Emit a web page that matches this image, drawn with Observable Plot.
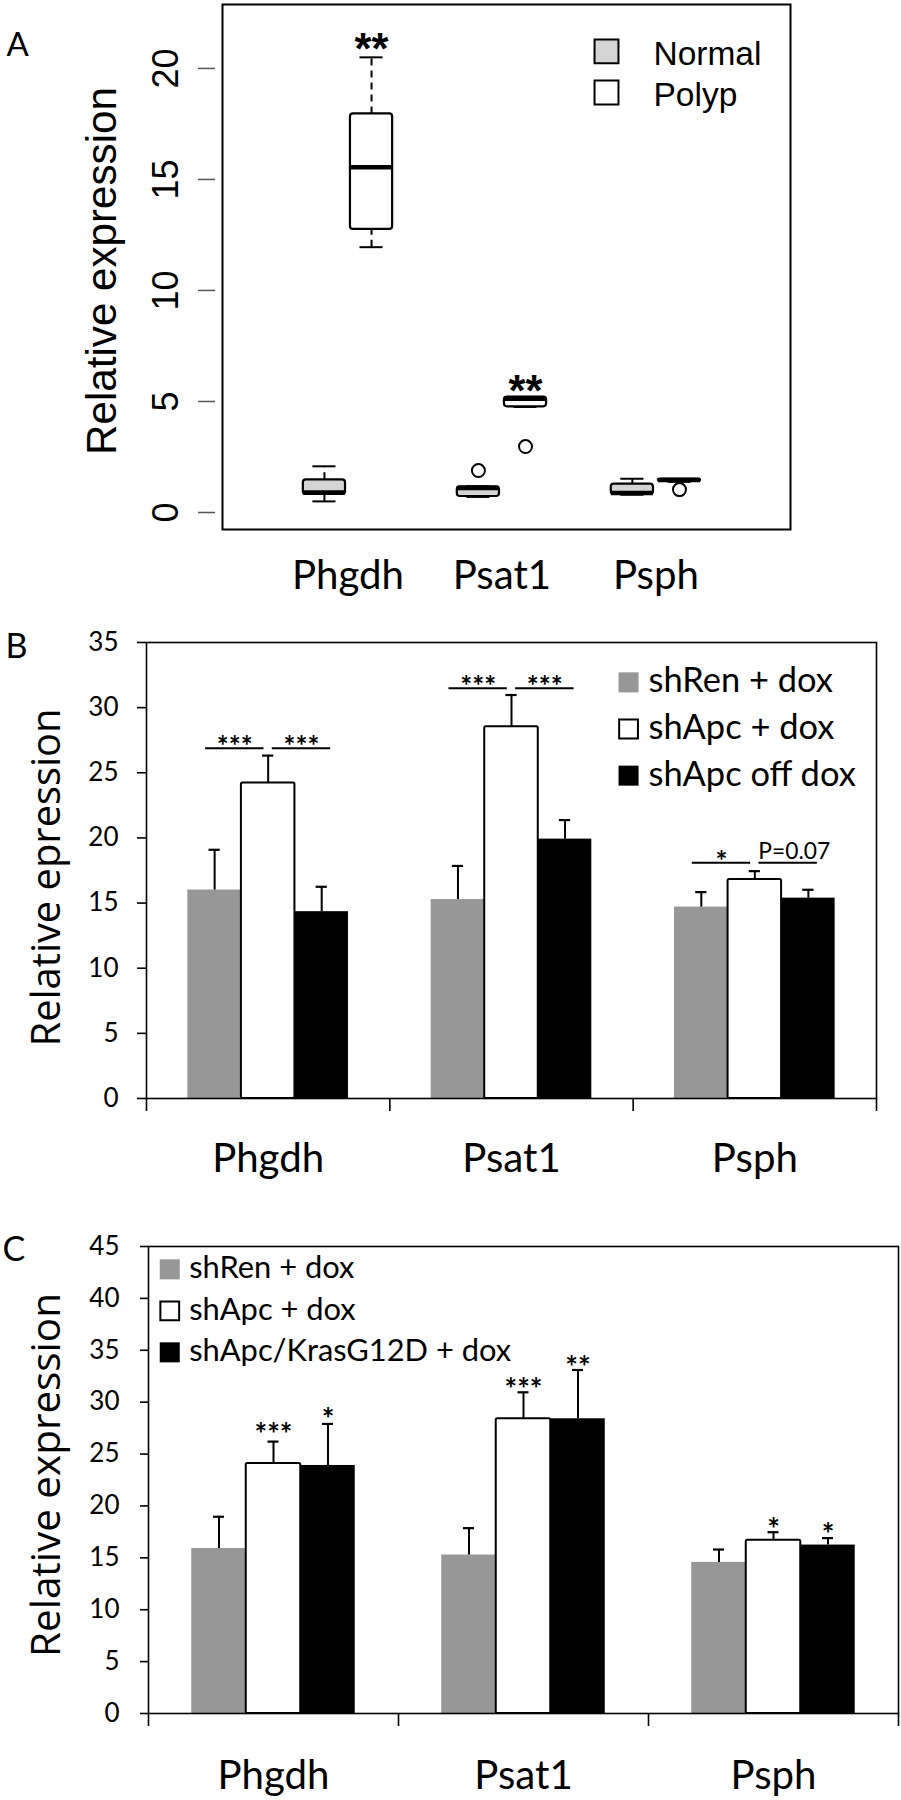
<!DOCTYPE html>
<html>
<head>
<meta charset="utf-8">
<script src="https://cdn.jsdelivr.net/npm/d3@7"></script>
<script src="https://cdn.jsdelivr.net/npm/@observablehq/plot@0.6"></script>
<style>
  html, body { margin: 0; padding: 0; background: #fff; }
  #chart svg { display: block; }
</style>
</head>
<body>
<div id="chart"></div>
<script>
// ================= DATA =================
const genes = ["Phgdh", "Psat1", "Psph"];

// Panel A — box plots: [lower whisker, Q1, median, Q3, upper whisker] per gene
const groupsA = ["Normal", "Polyp"];
const boxNormal = [[0.50, 0.81, 0.90, 1.47, 2.08], [0.70, 0.72, 1.10, 1.16, 1.18], [0.80, 0.81, 0.88, 1.28, 1.52]];
const boxPolyp  = [[11.95, 12.75, 15.55, 17.95, 20.50], [4.75, 4.76, 5.12, 5.20, 5.20], [1.38, 1.40, 1.46, 1.50, 1.50]];
const outlierGene  = ["Psat1", "Psat1", "Psph"];
const outlierGroup = ["Normal", "Polyp", "Polyp"];
const outlierValue = [1.89, 2.97, 1.03];
const starGeneA = ["Phgdh", "Psat1"];
const starValueA = [21.26, 5.86];
const ticksA = [0, 5, 10, 15, 20];

// Panel B — mean and (upper) error bar per gene
const groupsB = ["shRen + dox", "shApc + dox", "shApc off dox"];
const meanB_shRen = [16.00, 15.27, 14.69];
const meanB_shApc = [24.22, 28.54, 16.81];
const meanB_off   = [14.34, 19.91, 15.38];
const errB_shRen  = [3.09, 2.58, 1.15];
const errB_shApc  = [2.10, 2.43, 0.64];
const errB_off    = [1.91, 1.46, 0.64];
const sigGeneB  = ["Phgdh", "Phgdh", "Psat1", "Psat1", "Psph", "Psph"];
const sigSideB  = ["left", "right", "left", "right", "left", "right"];
const sigValueB = [26.88, 26.88, 31.48, 31.48, 18.09, 18.09];
const sigLabelB = ["***", "***", "***", "***", "*", "P=0.07"];
const ticksB = [0, 5, 10, 15, 20, 25, 30, 35];

// Panel C
const groupsC = ["shRen + dox", "shApc + dox", "shApc/KrasG12D + dox"];
const meanC_shRen = [15.90, 15.27, 14.56];
const meanC_shApc = [24.10, 28.40, 16.70];
const meanC_kras  = [23.90, 28.40, 16.23];
const errC_shRen  = [3.06, 2.59, 1.24];
const errC_shApc  = [2.10, 2.55, 0.77];
const errC_kras   = [4.00, 4.70, 0.67];
const starGeneC  = ["Phgdh", "Phgdh", "Psat1", "Psat1", "Psph", "Psph"];
const starGroupC = ["shApc + dox", "shApc/KrasG12D + dox", "shApc + dox", "shApc/KrasG12D + dox", "shApc + dox", "shApc/KrasG12D + dox"];
const starValueC = [27.57, 29.0, 31.88, 34.0, 18.44, 17.9];
const starLabelC = ["***", "*", "***", "**", "*", "*"];
const ticksC = [0, 5, 10, 15, 20, 25, 30, 35, 40, 45];

// ================= LAYOUT / STYLE =================
const GRAY = "#979797";
const SANS = "Lato, 'Open Sans', sans-serif";
const ARIAL = "'Liberation Sans', Arial, sans-serif";
const LABEL = "'Open Sans', sans-serif";
const baseStyle = {background: "white", overflow: "visible", color: "black"};

// font size that makes a text span a given width
const measureCtx = document.createElement("canvas").getContext("2d");
function fitSize(text, family, weight, width) {
  measureCtx.font = `${weight} 100px ${family}`;
  return 100 * width / measureCtx.measureText(text).width;
}
const FS = {
  cat: fitSize("Phgdh", SANS, "normal", 112),
  legA: fitSize("Normal", ARIAL, "normal", 108),
  legB: fitSize("shApc off dox", SANS, "normal", 208),
  legC: fitSize("shApc/KrasG12D + dox", SANS, "normal", 322),
  labA: fitSize("Relative expression", ARIAL, "normal", 368),
  labB: fitSize("Relative epression", LABEL, "normal", 338),
  labC: fitSize("Relative expression", LABEL, "normal", 364),
  starB: fitSize("***", SANS, "bold", 36),
  starC: fitSize("***", SANS, "bold", 38),
  starA: fitSize("**", ARIAL, "bold", 34),
  pval: fitSize("P=0.07", SANS, "normal", 72)
};

const LA = {height: 600, ml: 222, mr: 111, mt: 4, mb: 71, xDomain: [-0.815, 2.874], yDomain: [-0.766, 22.88],
            off: 0.153, hw: 0.137, capHW: 0.075, legX: 1.679, legTextX: 1.984, legY0: 20.77, legStep: 1.85};
const LB = {height: 590, ml: 146, mr: 25, mt: 42, mb: 92, barW: 0.22, capHW: 0.023,
            legX: 1.481, legTextX: 1.563, legY0: 31.94, legStep: 3.58, padOuter: 0.037, padInner: 0.017};
const LC = {height: 610, ml: 148, mr: 3, mt: 56, mb: 87, barW: 0.218, capHW: 0.022,
            legX: -0.415, legTextX: -0.337, legY0: 42.8, legStep: 4.0};

// ================= PANEL A =================
const rowsA = genes.flatMap((g, i) => groupsA.map((grp, j) => {
  const s = (j === 0 ? boxNormal : boxPolyp)[i];
  return {gene: g, group: grp, low: s[0], q1: s[1], med: s[2], q3: s[3], high: s[4]};
}));
const xA = d => genes.indexOf(d.gene) + (groupsA.indexOf(d.group) === 0 ? -LA.off : LA.off);
const outRowsA = outlierValue.map((v, k) => ({gene: outlierGene[k], group: outlierGroup[k], value: v}));
const starRowsA = starValueA.map((v, k) => ({gene: starGeneA[k], group: "Polyp", value: v}));
const legendA = groupsA.map((g, i) => ({group: g, i}));

const plotA = Plot.plot({
  width: 901, height: LA.height,
  marginLeft: LA.ml, marginRight: LA.mr, marginTop: LA.mt, marginBottom: LA.mb,
  x: {domain: LA.xDomain, axis: null},
  y: {domain: LA.yDomain, label: null},
  color: {domain: groupsA, range: ["#d4d4d4", "#ffffff"]},
  style: baseStyle,
  marks: [
    Plot.frame({stroke: "black", strokeWidth: 2}),
    Plot.axisY({ticks: ticksA, tickSize: 17, tickPadding: 21, tickRotate: -90, dx: -7,
                fontSize: 36, fontFamily: ARIAL, stroke: "#555", strokeWidth: 1.5, fill: "black", label: null}),
    // whiskers
    Plot.ruleX(rowsA, {x: xA, y1: "q3", y2: "high", stroke: "black", strokeWidth: 2, strokeDasharray: "7,5"}),
    Plot.ruleX(rowsA, {x: xA, y1: "low", y2: "q1", stroke: "black", strokeWidth: 2, strokeDasharray: "7,5"}),
    Plot.ruleY(rowsA, {y: "high", x1: d => xA(d) - LA.capHW, x2: d => xA(d) + LA.capHW, stroke: "black", strokeWidth: 2}),
    Plot.ruleY(rowsA, {y: "low", x1: d => xA(d) - LA.capHW, x2: d => xA(d) + LA.capHW, stroke: "black", strokeWidth: 2}),
    // boxes
    Plot.rect(rowsA, {x1: d => xA(d) - LA.hw, x2: d => xA(d) + LA.hw, y1: "q1", y2: "q3",
                      fill: "group", stroke: "black", strokeWidth: 2.2, rx: 3}),
    Plot.ruleY(rowsA, {y: "med", x1: d => xA(d) - LA.hw, x2: d => xA(d) + LA.hw, stroke: "black", strokeWidth: 4.5}),
    // outliers
    Plot.dot(outRowsA, {x: xA, y: "value", r: 6.5, fill: "white", stroke: "black", strokeWidth: 2}),
    // significance stars
    Plot.text(starRowsA, {x: xA, y: "value", text: () => "**", fontSize: FS.starA, fontWeight: "bold",
                          fontFamily: ARIAL, lineAnchor: "middle", dy: 10}),
    // legend
    Plot.dot(legendA, {x: () => LA.legX, y: d => LA.legY0 - d.i * LA.legStep, symbol: "square", r: 13.5,
                       fill: "group", stroke: "black", strokeWidth: 2}),
    Plot.text(legendA, {x: () => LA.legTextX, y: d => LA.legY0 - d.i * LA.legStep, text: "group",
                        textAnchor: "start", lineAnchor: "middle", dy: 3, fontSize: FS.legA, fontFamily: ARIAL}),
    // category labels
    Plot.text(genes, {x: (d, i) => i, text: d => d, frameAnchor: "bottom", lineAnchor: "bottom", dy: 59,
                      fontSize: FS.cat, fontFamily: SANS}),
    // y label
    Plot.text(["Relative expression"], {text: d => d, frameAnchor: "left", textAnchor: "middle", rotate: -90,
                      dx: -120, dy: 4, fontSize: FS.labA, fontFamily: ARIAL}),
    // panel letter
    Plot.text(["A"], {text: d => d, frameAnchor: "top-left", textAnchor: "start", lineAnchor: "bottom",
                      dx: -216, dy: 51, fontSize: 33, fontFamily: SANS})
  ]
});

// ================= helpers for bar panels =================
function barRows(groups, means, errs) {
  return genes.flatMap((g, i) => groups.map((grp, j) => ({gene: g, gi: i, group: grp, gj: j, value: means[j][i], err: errs[j][i]})));
}

function barPanel(L, groups, rows, ticks, extraMarks, yLabel, letter, opts) {
  const xc = d => d.gi + (d.gj - 1) * L.barW;
  const legend = groups.map((g, i) => ({group: g, i}));
  return Plot.plot({
    width: 901, height: L.height,
    marginLeft: L.ml, marginRight: L.mr, marginTop: L.mt, marginBottom: L.mb,
    x: {domain: [-0.5, 2.5]},
    y: {domain: [0, ticks[ticks.length - 1]], label: null},
    color: {domain: groups, range: [GRAY, "#ffffff", "#000000"]},
    style: baseStyle,
    marks: [
      Plot.rect(rows, {x1: d => xc(d) - L.barW / 2, x2: d => xc(d) + L.barW / 2, y1: () => 0, y2: "value", fill: "group"}),
      Plot.rect(rows, {filter: d => d.gj === 1, x1: d => xc(d) - L.barW / 2, x2: d => xc(d) + L.barW / 2,
                       y1: () => 0, y2: "value", fill: "none", stroke: "black", strokeWidth: 2, rx: 1.5}),
      Plot.ruleX(rows, {x: xc, y1: "value", y2: d => d.value + d.err, stroke: "black", strokeWidth: 2}),
      Plot.ruleY(rows, {y: d => d.value + d.err, x1: d => xc(d) - L.capHW, x2: d => xc(d) + L.capHW, stroke: "black", strokeWidth: 2.2}),
      Plot.frame({stroke: "black", strokeWidth: 1.6}),
      Plot.axisY({ticks, tickSize: opts.tickSize, tickPadding: opts.tickPadding, fontSize: 26, fontFamily: SANS,
                  strokeWidth: 1.6, label: null}),
      Plot.axisX({ticks: [-0.5, 0.5, 1.5, 2.5], tickSize: 13, tickFormat: () => "", strokeWidth: 1.6, label: null}),
      Plot.text(genes, {x: (d, i) => i, text: d => d, frameAnchor: "bottom", lineAnchor: "bottom", dy: opts.catDy,
                        fontSize: FS.cat, fontFamily: SANS}),
      // legend
      Plot.dot(legend, {x: () => L.legX, y: d => L.legY0 - d.i * L.legStep, symbol: "square", r: 11.3, fill: "group"}),
      Plot.dot(legend, {filter: d => d.i === 1, x: () => L.legX, y: d => L.legY0 - d.i * L.legStep, symbol: "square",
                        r: 10.6, fill: "none", stroke: "black", strokeWidth: 2}),
      Plot.text(legend, {x: () => L.legTextX, y: d => L.legY0 - d.i * L.legStep, text: "group", textAnchor: "start",
                         lineAnchor: "middle", dy: -1, fontSize: opts.legendFont, fontFamily: SANS}),
      ...extraMarks(xc),
      Plot.text([yLabel], {text: d => d, frameAnchor: "left", textAnchor: "middle", rotate: -90,
                           dx: opts.labelDx, dy: opts.labelDy, fontSize: opts.labelFont, fontFamily: LABEL}),
      Plot.text([letter], {text: d => d, frameAnchor: "top-left", textAnchor: "start", lineAnchor: "bottom",
                           dx: opts.letterDx, dy: opts.letterDy, fontSize: 34, fontFamily: SANS})
    ]
  });
}

// ================= PANEL B =================
const rowsB = barRows(groupsB, [meanB_shRen, meanB_shApc, meanB_off], [errB_shRen, errB_shApc, errB_off]);
const sigRowsB = sigValueB.map((v, k) => {
  const gi = genes.indexOf(sigGeneB[k]);
  const left = sigSideB[k] === "left";
  const x1 = left ? gi - LB.barW - LB.padOuter : gi + LB.padInner;
  const x2 = left ? gi - LB.padInner : gi + LB.barW + LB.padOuter;
  return {x1, x2, xm: (x1 + x2) / 2, value: v, label: sigLabelB[k]};
});
const plotB = barPanel(LB, groupsB, rowsB, ticksB, () => [
  Plot.ruleY(sigRowsB, {y: "value", x1: "x1", x2: "x2", stroke: "black", strokeWidth: 2}),
  Plot.text(sigRowsB, {filter: d => d.label.startsWith("*"), x: "xm", y: "value", text: "label",
                       lineAnchor: "bottom", dy: 8, fontSize: FS.starB, fontWeight: "bold", fontFamily: SANS}),
  Plot.text(sigRowsB, {filter: d => !d.label.startsWith("*"), x: d => d.xm + 0.025, y: "value", text: "label",
                       lineAnchor: "bottom", dy: -4, fontSize: FS.pval, fontFamily: SANS})
], "Relative epression", "B",
  {tickSize: 9, tickPadding: 19, catDy: 73, legendFont: FS.legB, labelFont: FS.labB,
   labelDx: -99, labelDy: 7, letterDx: -141, letterDy: 15});

// ================= PANEL C =================
const rowsC = barRows(groupsC, [meanC_shRen, meanC_shApc, meanC_kras], [errC_shRen, errC_shApc, errC_kras]);
const starRowsC = starValueC.map((v, k) => ({gi: genes.indexOf(starGeneC[k]), gj: groupsC.indexOf(starGroupC[k]), value: v, label: starLabelC[k]}));
const plotC = barPanel(LC, groupsC, rowsC, ticksC, (xc) => [
  Plot.text(starRowsC, {x: xc, y: "value", text: "label", lineAnchor: "middle", dy: 8, fontSize: FS.starC,
                        fontWeight: "bold", fontFamily: SANS})
], "Relative expression", "C",
  {tickSize: 8, tickPadding: 21, catDy: 75, legendFont: FS.legC, labelFont: FS.labC,
   labelDx: -101, labelDy: -5, letterDx: -146, letterDy: 14});

const chart = document.getElementById("chart");
chart.append(plotA, plotB, plotC);
</script>
</body>
</html>
